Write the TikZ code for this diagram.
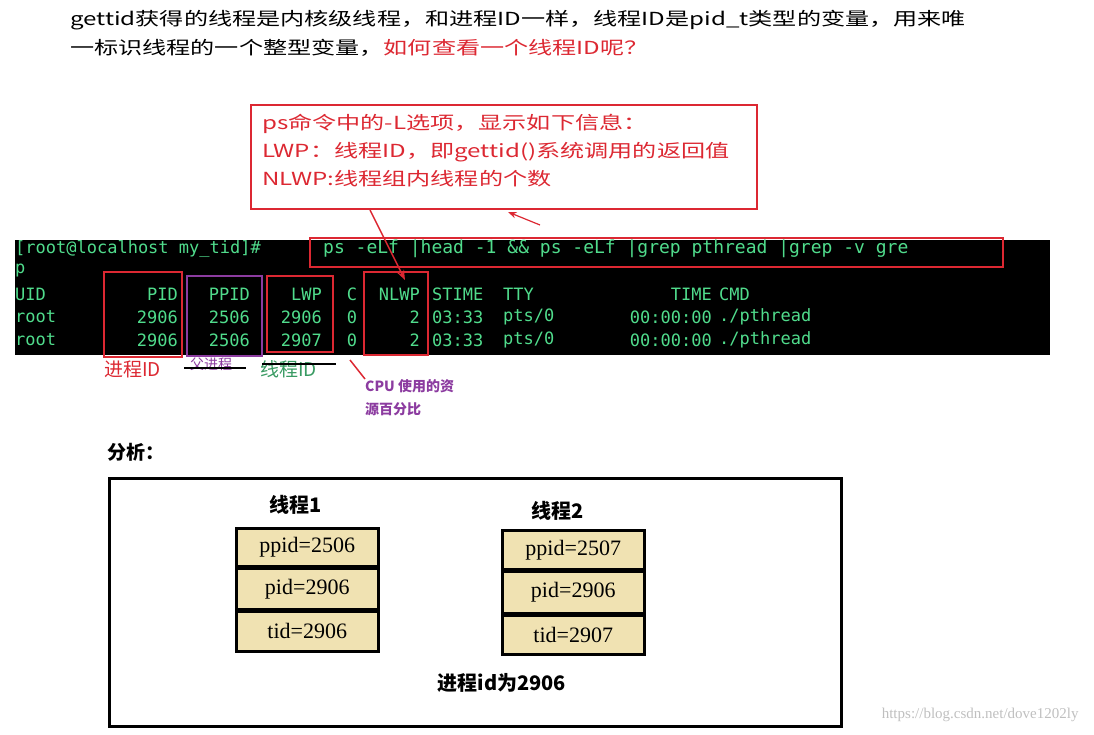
\documentclass[tikz,border=0pt]{standalone}
\usepackage{fontspec}
\setmainfont{Liberation Serif}
\newfontfamily\cjk{Noto Sans CJK SC}
\newfontfamily\term{DejaVu Sans Mono}
\usetikzlibrary{positioning,arrows.meta,calc}
\definecolor{termgreen}{RGB}{80,220,140}
\definecolor{callred}{RGB}{220,40,50}
\definecolor{ppurple}{RGB}{140,60,160}
\definecolor{wheatbox}{RGB}{240,226,178}
\newcommand{\wide}[1]{\scalebox{1.34}[1]{#1}}
\begin{document}
\begin{tikzpicture}[x=1pt,y=-1pt,
    txt/.style={anchor=west, inner sep=0pt, font=\fontsize{18}{20}\selectfont\cjk},
    cell/.style={inner sep=0pt, text=termgreen, font=\fontsize{17}{18}\selectfont\term},
    hl/.style={draw=callred, line width=2pt},
    field/.style={draw, line width=2.5pt, fill=wheatbox, minimum width=142pt, inner sep=0pt, font=\fontsize{22}{24}\selectfont},
    >=Stealth
]
\useasboundingbox (0,0) rectangle (1094,735);

% intro text
\node[txt] (l1) at (70,20) {\wide{gettid获得的线程是内核级线程，和进程ID一样，线程ID是pid\_t类型的变量，用来唯}};
\node[txt] (l2) at (70,48) {\wide{一标识线程的一个整型变量，\textcolor{callred}{如何查看一个线程ID呢？}}};

% callout
\node[hl, minimum width=506pt, minimum height=104pt, anchor=north west] (call) at (250,104) {};
\node[txt, text=callred, align=left, anchor=north west, font=\fontsize{18}{28}\selectfont\cjk] (calltxt) at (262,114)
  {\wide{ps命令中的-L选项，显示如下信息：}\\\wide{LWP：线程ID，即gettid()系统调用的返回值}\\\wide{NLWP:线程组内线程的个数}};

% terminal
\fill[black] (15,240) rectangle (1050,355);
\node[cell, anchor=west] (prompt) at (15,249) {[root@localhost my\_tid]\#};
\node[cell, anchor=west, font=\fontsize{18}{18}\selectfont\term] (cmd) at (323,249) {ps -eLf |head -1 \&\& ps -eLf |grep pthread |grep -v gre};
\node[cell, anchor=west] (wrap) at (15,271) {p};
\foreach \y/\u/\p/\pp/\l/\c/\n/\s/\t/\tm/\cm [count=\i] in
  {294/UID/PID/PPID/LWP/C/NLWP/STIME/TTY/TIME/CMD,
   317/root/2906/2506/2906/0/2/03:33/{pts/0}/00:00:00/{./pthread},
   340/root/2906/2506/2907/0/2/03:33/{pts/0}/00:00:00/{./pthread}}{
  \node[cell, anchor=west] (uid\i) at (15,\y) {\u};
  \node[cell, anchor=east] (pid\i) at (178,\y) {\p};
  \node[cell, anchor=east] (ppid\i) at (250,\y) {\pp};
  \node[cell, anchor=east] (lwp\i) at (322,\y) {\l};
  \node[cell] (c\i) at (352,\y) {\c};
  \node[cell, anchor=east] (nlwp\i) at (420,\y) {\n};
  \node[cell, anchor=west] (stime\i) at (432,\y) {\s};
  \node[cell, anchor=west] (tty\i) at (503,\y) {\t};
  \node[cell, anchor=east] (time\i) at (712,\y) {\tm};
  \node[cell, anchor=west] (cmdcol\i) at (719,\y) {\cm};
}

% highlight boxes
\draw[hl] (310,238) rectangle (1003,267);
\draw[hl] (104,272) rectangle (182,357);
\draw[draw=ppurple, line width=2pt] (187,276) rectangle (262,356);
\draw[hl] (267,276) rectangle (333,352);
\draw[hl] (364,272) rectangle (428,355);

% column notes
\node[txt, text=callred, font=\fontsize{19}{20}\selectfont\cjk] (pidnote) at (104,369) {进程ID};
\node[txt, text=ppurple, font=\fontsize{14}{16}\selectfont\cjk] (ppidnote) at (190,364) {父进程};
\node[txt, text=termgreen!70!black, font=\fontsize{19}{20}\selectfont\cjk] (lwpnote) at (260,369) {线程ID};
\draw[line width=2pt] (184,368) -- (246,368);
\draw[line width=2pt] (262,364) -- (336,364);
\node[txt, text=ppurple, align=left, anchor=north west, font=\fontsize{14}{23}\selectfont\bfseries\cjk] (cpunote) at (365,379) {CPU 使用的资\\源百分比};

% arrows
\coordinate (nlwptip) at (405,280);
\coordinate (cmdtail) at (540,225);
\coordinate (ctop) at (350,360);
\draw[->, callred, line width=1.5pt] ($(call.south west)+(120,0)$) -- (nlwptip);
\draw[->, callred, line width=1.2pt] (cmdtail) -- ($(call.south west)+(258,2)$);
\draw[callred, line width=1.5pt] (ctop) -- (cpunote.north west);

% analysis
\node[txt, font=\fontsize{19}{20}\selectfont\bfseries\cjk] (ana) at (107,452) {分析：};
\node[draw, line width=2.5pt, minimum width=732pt, minimum height=248pt, anchor=north west] (proc) at (108,477) {};

\node[font=\fontsize{20}{22}\selectfont\bfseries\cjk] (t1) at (296,505) {线程1};
\node[field, minimum height=38pt, anchor=north west] (t1a) at (235,527) {ppid=2506};
\node[field, minimum height=40pt, below=0pt of t1a] (t1b) {pid=2906};
\node[field, minimum height=40pt, below=0pt of t1b] (t1c) {tid=2906};

\node[font=\fontsize{20}{22}\selectfont\bfseries\cjk] (t2) at (558,511) {线程2};
\node[field, minimum height=39pt, anchor=north west] (t2a) at (501,529) {ppid=2507};
\node[field, minimum height=41pt, below=0pt of t2a] (t2b) {pid=2906};
\node[field, minimum height=39pt, below=0pt of t2b] (t2c) {tid=2907};

\node[font=\fontsize{20}{22}\selectfont\bfseries\cjk] (pidval) at (502,683) {进程id为2906};
\node[anchor=east, text=gray!50, font=\fontsize{15}{16}\selectfont] (mark) at (1082,715) {https://blog.csdn.net/dove1202ly};
\end{tikzpicture}
\end{document}
